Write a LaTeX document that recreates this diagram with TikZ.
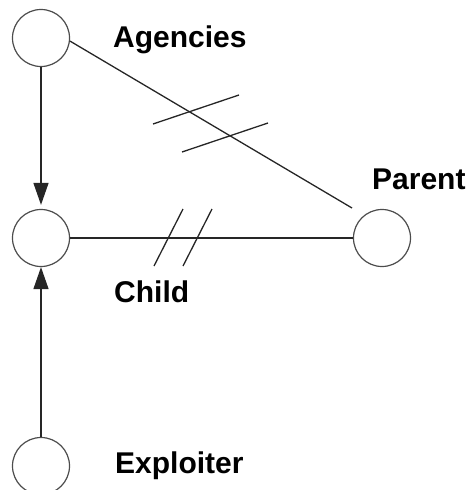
\documentclass[tikz,border=0pt]{standalone}
\usepackage{fontspec}
\setmainfont{Liberation Sans}
\usetikzlibrary{arrows.meta,calc}

\tikzset{
  party/.style={circle, draw=black!70, line width=1.2pt, minimum size=57pt, inner sep=0pt},
  tag/.style={anchor=base west, inner sep=0pt, font=\bfseries\fontsize{30}{36}\selectfont},
  link/.style={draw=black!85, line width=1.3pt},
  flow/.style={link, -{Triangle[length=22pt,width=15pt]}},
  cut/.style={draw=black!85, line width=1.3pt}
}

\begin{document}
\begin{tikzpicture}[x=1pt, y=-1pt]
  \useasboundingbox (0,0) rectangle (469,490);

  % the four parties
  \node[party] (ag) at (41,38)  {};
  \node[party] (ch) at (41,238) {};
  \node[party] (pa) at (382,238) {};
  \node[party] (ex) at (41,466) {};

  % their names
  \node[tag] (agl) at (113,47)  {Agencies};
  \node[tag] (pal) at (372,189) {Parent};
  \node[tag] (chl) at (114,302) {Child};
  \node[tag] (exl) at (115,473) {Exploiter};

  % influences on the child
  \draw[flow, shorten >=4pt] (ag.south) -- (ch.north);
  \draw[flow] (ex.north) -- (ch.south);

  % broken links
  \coordinate (pend) at ($(pa)+(-30,-30)$);
  \draw[link] (ag.-6) -- (pend);
  \draw[link] (ch.east) -- (pa.west);

  % break marks on the agencies--parent link
  \draw[cut] (153,124) -- (239,95);
  \draw[cut] (182,152) -- (268,123);

  % break marks on the child--parent link
  \draw[cut] (154,266) -- (183,209);
  \draw[cut] (183,266) -- (212,209);
\end{tikzpicture}
\end{document}
